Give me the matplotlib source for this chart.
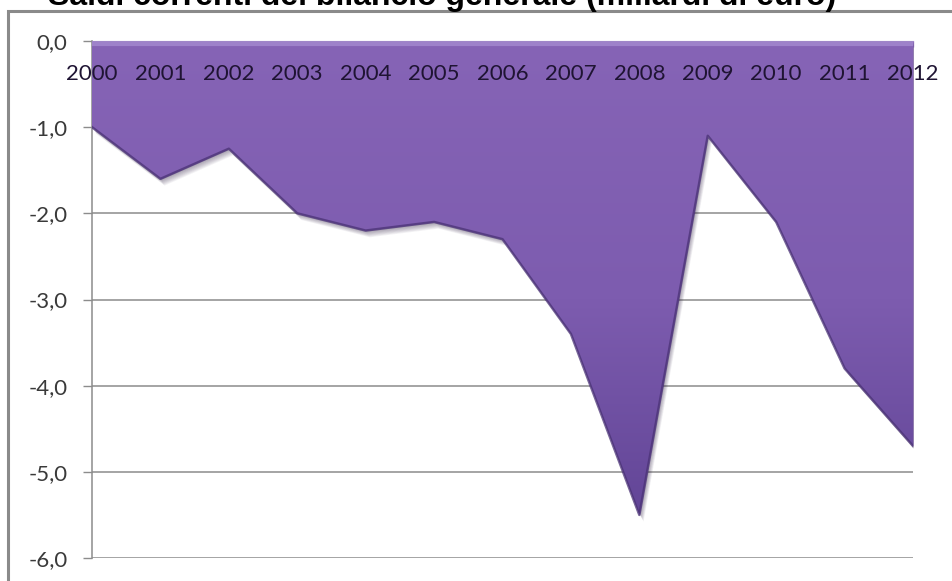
import numpy as np
import matplotlib
matplotlib.use('Agg')
import matplotlib.pyplot as plt
import matplotlib.transforms as mtransforms
from matplotlib.colors import LinearSegmentedColormap
from matplotlib.patches import Rectangle

# dati (miliardi di euro)
anni = ['2000', '2001', '2002', '2003', '2004', '2005', '2006',
        '2007', '2008', '2009', '2010', '2011', '2012']
saldi = [-1.0, -1.6, -1.25, -2.0, -2.2, -2.1, -2.3,
         -3.4, -5.5, -1.1, -2.1, -3.8, -4.7]
y_ticks = [0, -1, -2, -3, -4, -5, -6]
y_labels = ['0,0', '-1,0', '-2,0', '-3,0', '-4,0', '-5,0', '-6,0']
titolo = 'Saldi correnti del bilancio generale (miliardi di euro)'

W, H = 953, 581
fig = plt.figure(figsize=(W / 100, H / 100), dpi=100)
ax = fig.add_axes([92 / W, 1 - 558 / H, (913 - 92) / W, (558 - 41) / H])

x = np.arange(len(anni))
y = np.array(saldi)

# cornice del grafico
fig.patches.append(Rectangle((8 / W, -0.05), 1.0, 1 - 11 / H + 0.05,
                             transform=fig.transFigure, fill=False,
                             edgecolor='#8a8a8a', linewidth=2.2))

# griglia
for v in y_ticks:
    ax.axhline(v, color='#8c8c8c', linewidth=1.1, zorder=1)

# ombra sfumata
for k in range(1, 10):
    tr = mtransforms.offset_copy(ax.transData, fig=fig, x=k * 0.3, y=-k * 0.5, units='points')
    ax.fill_between(x, 0, y, color='#2a1a40', alpha=0.05, linewidth=0, transform=tr, zorder=2)

# area con gradiente
area = ax.fill_between(x, 0, y, color='#7a5aaa', linewidth=0, zorder=3)
cmap = LinearSegmentedColormap.from_list('viola', ['#8664b6', '#7d5caf', '#5d4192'])
grad = np.linspace(0, 1, 256).reshape(-1, 1)
img = ax.imshow(grad, cmap=cmap, extent=[x[0], x[-1], -6, 0], aspect='auto',
                origin='upper', zorder=4)
img.set_clip_path(area.get_paths()[0], transform=ax.transData)
ax.plot(x, y, color='#4a3275', linewidth=1.8, alpha=0.75, zorder=5)
ax.plot([x[0], x[-1]], [-0.03, -0.03], color='#a58ad0', linewidth=3, alpha=0.8, zorder=5)

ax.set_xlim(x[0], x[-1])
ax.set_ylim(-6, 0)

for s in ['right', 'bottom']:
    ax.spines[s].set_visible(False)
ax.spines['left'].set_color('#8c8c8c')
ax.spines['top'].set_color('#9f86c8')
ax.spines['left'].set_linewidth(1.1)
ax.spines['top'].set_zorder(6)

ax.set_yticks(y_ticks)
ax.set_yticklabels(y_labels, family='Lato', fontsize=16, color='#3a3a3a')
ax.tick_params(axis='y', length=6.5, width=1, color='#8c8c8c', pad=11)

ax.xaxis.tick_top()
ax.set_xticks(x)
ax.tick_params(axis='x', direction='in', length=4, width=1, color='#a58ad0',
               labeltop=False, labelbottom=False)

for xi, lab in zip(x, anni):
    ax.annotate(lab, (xi, 0), xytext=(0, -24), textcoords='offset points',
                ha='center', va='center', family='Lato', fontsize=16,
                color='#1f1433', zorder=7, annotation_clip=False)

# titolo tagliato in alto come nell'originale
fig.text(836 / W, 1 - 5 / H, titolo, ha='right', va='baseline',
         family='Liberation Sans', fontweight='bold', fontsize=23, color='black')

fig.savefig('out.png', dpi=100)
